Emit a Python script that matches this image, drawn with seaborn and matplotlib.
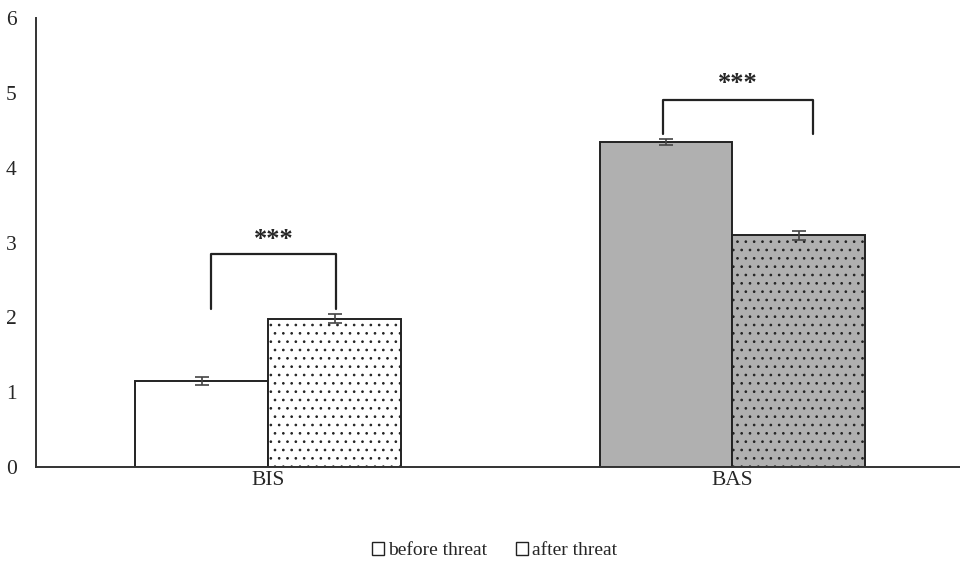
import pandas as pd
import matplotlib.pyplot as plt
import seaborn as sns
import numpy as np
from matplotlib.patches import Patch

# values
scales = ["BIS", "BIS", "BAS", "BAS"]
conditions = ["before threat", "after threat", "before threat", "after threat"]
means = [1.15, 1.98, 4.34, 3.10]
errors = [0.05, 0.06, 0.04, 0.06]

df = pd.DataFrame({"scale": scales, "condition": conditions, "mean": means})

sns.set_style("white")
plt.rcParams["font.family"] = ["Liberation Serif", "DejaVu Serif"]
plt.rcParams["hatch.linewidth"] = 0.7

fig = plt.figure(figsize=(9.6, 5.66), dpi=100)
ax = fig.add_axes([0.0375, 0.175, 0.9625, 0.793])

sns.barplot(data=df, x="scale", y="mean", hue="condition", width=0.572,
            palette=["white", "white"], edgecolor="black", linewidth=1.4,
            ax=ax, legend=False)

# colour and hatch each bar; patches come hue-major
bar_fill = {"BIS": "white", "BAS": "#b0b0b0"}
order = [("BIS", "before threat"), ("BAS", "before threat"),
         ("BIS", "after threat"), ("BAS", "after threat")]
for p, (s, c) in zip(ax.patches[:4], order):
    p.set_facecolor(bar_fill[s])
    p.set_edgecolor("#222222")
    if c == "after threat":
        p.set_hatch("..")
    i = [k for k in range(4) if scales[k] == s and conditions[k] == c][0]
    xc = p.get_x() + p.get_width() / 2
    ax.errorbar(xc, means[i], yerr=errors[i], color="#444444", capsize=5,
                elinewidth=1.2, capthick=1.2)

# significance brackets
brackets = [(-0.123, 0.146, 2.11, 2.85, 2.89), (0.85, 1.174, 4.45, 4.91, 4.97)]
for x0, x1, yb, yt, ys in brackets:
    ax.plot([x0, x0, x1, x1], [yb, yt, yt, yb], color="#222222", lw=1.6,
            solid_joinstyle="round")
    ax.text((x0 + x1) / 2, ys, "***", ha="center", va="bottom", fontsize=19,
            fontweight="bold")

ax.set_ylim(0, 6)
ax.set_xlim(-0.5, 1.49)
ax.set_yticks(range(7))
ax.set_xlabel("")
ax.set_ylabel("")
ax.tick_params(axis="both", length=0, labelsize=15.5)
ax.tick_params(axis="x", pad=3)
ax.tick_params(axis="y", pad=14)
for side in ["top", "right"]:
    ax.spines[side].set_visible(False)
for side in ["left", "bottom"]:
    ax.spines[side].set_color("#333333")
    ax.spines[side].set_linewidth(1.4)

handles = [Patch(facecolor="white", edgecolor="#222222", label="before threat"),
           Patch(facecolor="white", edgecolor="#222222", label="after threat")]
fig.legend(handles=handles, loc="center", bbox_to_anchor=(0.515, 0.027), ncol=2,
           frameon=False, fontsize=14, handlelength=0.6, handleheight=0.6,
           handletextpad=0.2, columnspacing=1.5)

fig.savefig("out.png", dpi=100)
